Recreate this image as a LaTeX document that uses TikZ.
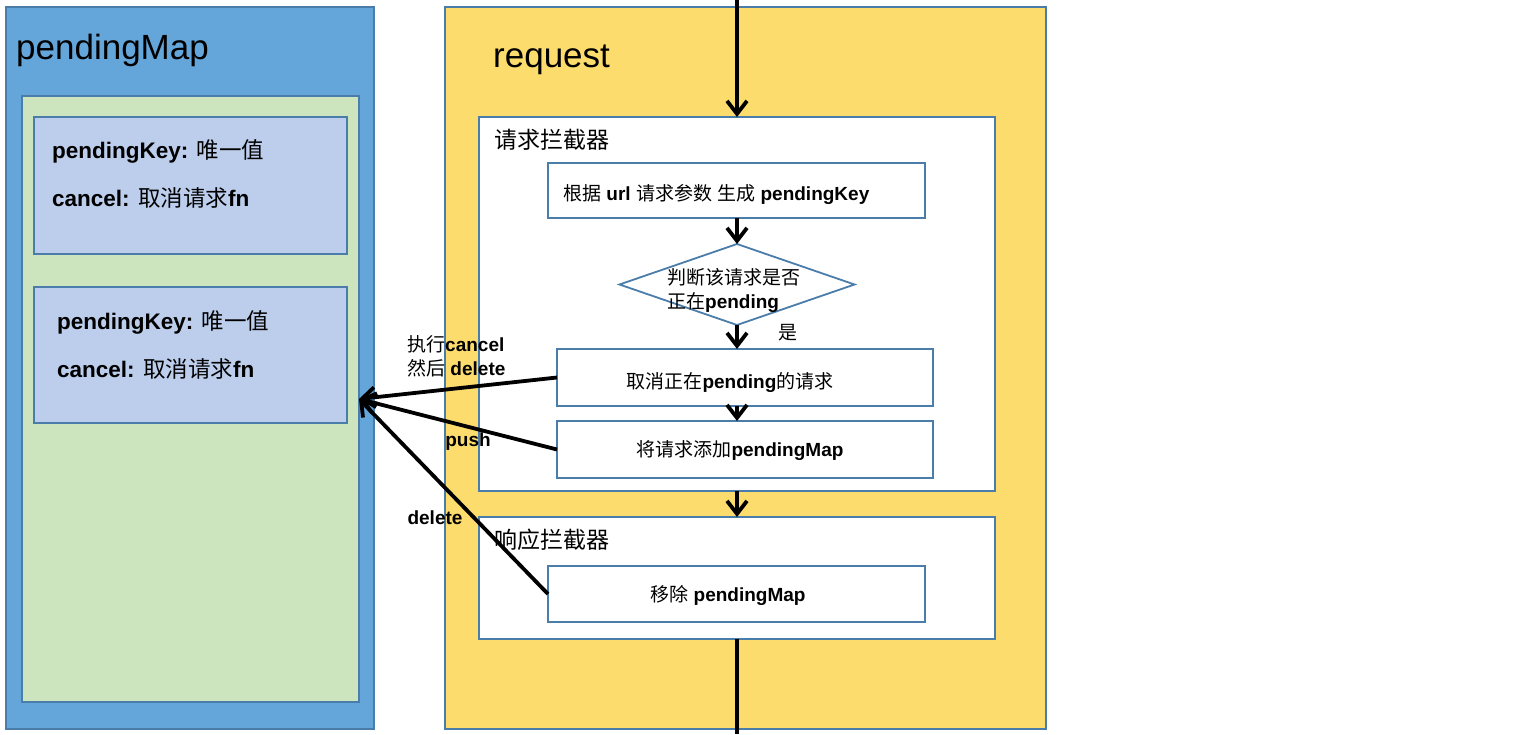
\documentclass[tikz,border=0pt]{standalone}
\usepackage{fontspec}
\setmainfont{Liberation Sans}
\newfontfamily\cjk{Noto Sans CJK SC}
\usetikzlibrary{shapes.geometric,arrows.meta}
\definecolor{bd}{HTML}{4A7DAA}
\definecolor{pmblue}{HTML}{64A5DA}
\definecolor{grn}{HTML}{CDE5BE}
\definecolor{lbl}{HTML}{BCCEEC}
\definecolor{ylw}{HTML}{FDDC6E}
\newcommand\zh[1]{{\cjk #1}}
\newcommand\fs[1]{\fontsize{#1}{#1}\selectfont}
\begin{document}
\begin{tikzpicture}[x=1pt,y=-1pt,
  box/.style={draw=bd, line width=1.8pt, inner sep=0pt, outer sep=0pt, anchor=north west},
  flow/.style={line width=3.8pt, -{Straight Barb[length=13pt,width=20pt]}},
  plain/.style={line width=3.8pt},
  ttl/.style={anchor=west, inner sep=0pt, font=\fs{35}},
  sec/.style={anchor=west, inner sep=0pt, font=\fs{23}},
  ent/.style={anchor=west, inner sep=0pt, font=\fs{22.5}},
  txt/.style={inner sep=0pt, font=\fs{19}},
  lab/.style={inner sep=0pt, font=\fs{19}}]
\useasboundingbox (0,0) rectangle (1529,734);

% pendingMap
\node[box, fill=pmblue, minimum width=368pt, minimum height=722pt] (pm) at (6,7) {};
\node[ttl] (pmt) at (16,50) {pendingMap};
\node[box, fill=grn, minimum width=337pt, minimum height=606pt] (gr) at (22,96) {};
\node[box, fill=lbl, minimum width=313pt, minimum height=137pt] (e1) at (34,117) {};
\node[box, fill=lbl, minimum width=313pt, minimum height=136pt] (e2) at (34,287) {};
\node[ent] (e1a) at (52,151) {\textbf{pendingKey:} \zh{唯一值}};
\node[ent] (e1b) at (52,198) {\textbf{cancel:} \zh{取消请求}\textbf{fn}};
\node[ent] (e2a) at (57,322) {\textbf{pendingKey:} \zh{唯一值}};
\node[ent] (e2b) at (57,369) {\textbf{cancel:} \zh{取消请求}\textbf{fn}};

% request
\node[box, fill=ylw, minimum width=601pt, minimum height=722pt] (rq) at (445,7) {};
\node[ttl] (rqt) at (493,60) {request};
\node[box, fill=white, minimum width=516pt, minimum height=374pt] (ri) at (479,117) {};
\node[sec] (rit) at (494,140) {\zh{请求拦截器}};
\node[box, fill=white, minimum width=377pt, minimum height=55pt] (gen) at (548,163) {};
\node[txt, anchor=west] (gent) at (563,194) {\zh{根据} \textbf{url} \zh{请求参数} \zh{生成} \textbf{pendingKey}};
\node[diamond, draw=bd, line width=1.8pt, fill=white, inner sep=0pt, outer sep=0pt, minimum width=235pt, minimum height=81pt] (dm) at (737,284.5) {};
\node[txt, anchor=west, align=left] (dmt) at (667,290) {\zh{判断该请求是否}\\[5pt]\zh{正在}\textbf{pending}};
\node[lab] (yes) at (788,333) {\zh{是}};
\node[box, fill=white, minimum width=376pt, minimum height=57pt] (cc) at (557,349) {};
\node[txt] (cct) at (730,382) {\zh{取消正在}\textbf{pending}\zh{的请求}};
\node[box, fill=white, minimum width=376pt, minimum height=57pt] (ad) at (557,421) {};
\node[txt] (adt) at (740,451) {\zh{将请求添加}\textbf{pendingMap}};

\node[box, fill=white, minimum width=516pt, minimum height=122pt] (rs) at (479,517) {};
\node[sec] (rst) at (494,540) {\zh{响应拦截器}};
\node[box, fill=white, minimum width=377pt, minimum height=56pt] (rm) at (548,566) {};
\node[txt] (rmt) at (728,595) {\zh{移除} \textbf{pendingMap}};

% vertical flow
\coordinate (top) at (737,0);
\coordinate (bot) at (737,734);
\draw[flow] (top) -- (top |- ri.north);
\draw[flow] (gen.south -| dm.north) -- (dm.north);
\draw[flow] (dm.south) -- (dm.south |- cc.north);
\draw[flow] (cc.south -| dm.south) -- (ad.north -| dm.south);
\draw[flow] (ri.south) -- (rs.north);
\draw[plain] (rs.south) -- (bot);

% arrows to pendingMap
\draw[flow] (cc.west) -- (gr.east);
\draw[flow] (ad.west) -- (gr.east);
\draw[flow] (rm.west) -- (gr.east);

% labels
\node[lab, anchor=west, align=left] (l1) at (407,356) {\zh{执行}\textbf{cancel}\\[5pt]\zh{然后} \textbf{delete}};
\node[lab] (l2) at (468,442) {\textbf{push}};
\node[lab] (l3) at (435,518) {\textbf{delete}};
\end{tikzpicture}
\end{document}
